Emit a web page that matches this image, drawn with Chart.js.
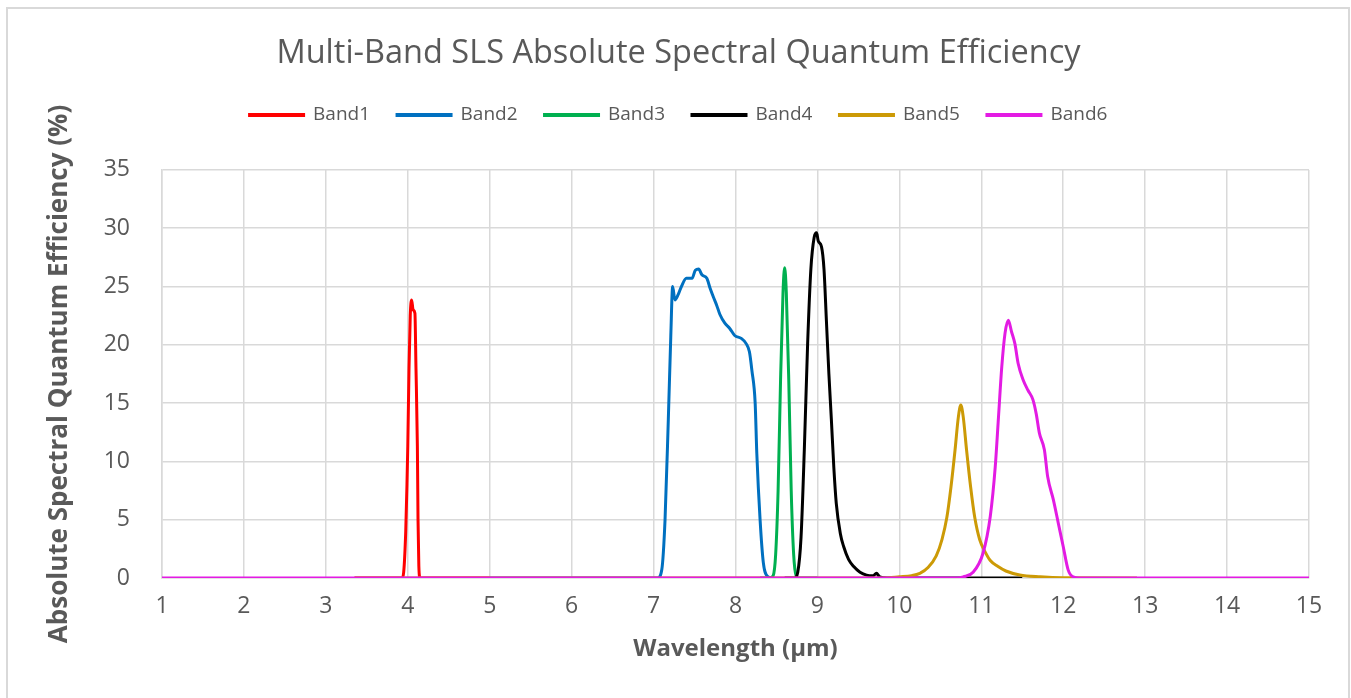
<!DOCTYPE html>
<html>
<head>
<meta charset="utf-8">
<title>Multi-Band SLS Absolute Spectral Quantum Efficiency</title>
<script src="https://cdn.jsdelivr.net/npm/chart.js@4.4.1/dist/chart.umd.min.js"></script>
<style>
  body { margin: 0; background: #fff; }
  #wrap { position: relative; width: 1351px; height: 698px; overflow: hidden; }
  #frame { position: absolute; left: 6px; top: 7px; width: 1344px; height: 720px;
           border: 2px solid #d9d9d9; box-sizing: border-box; pointer-events: none; }
</style>
</head>
<body>
<div id="wrap">
  <canvas id="qeChart" width="1351" height="698"></canvas>
  <div id="frame"></div>
</div>
<script>
// wavelength (um) and absolute QE (%), one pair of arrays per band
const bandNames = ['Band1', 'Band2', 'Band3', 'Band4', 'Band5', 'Band6'];
const bandColors = ['#ff0000', '#0070c0', '#00b050', '#000000', '#cc9a06', '#e31be3'];

const band1Wl = [3.35, 3.93, 3.95, 3.975, 3.99, 4.0, 4.015, 4.03, 4.047, 4.065, 4.087, 4.1, 4.117, 4.125, 4.135, 4.15, 5.0];
const band1Qe = [0, 0, 0.5, 4, 8, 11.3, 18, 22.5, 23.85, 23.0, 22.7, 18, 11.3, 5, 1, 0, 0];

const band2Wl = [5.0, 7.05, 7.1, 7.14, 7.18, 7.21, 7.233, 7.26, 7.30, 7.34, 7.40, 7.47, 7.51, 7.55, 7.59, 7.65, 7.69,
                 7.73, 7.77, 7.81, 7.87, 7.93, 7.99, 8.07, 8.13, 8.17, 8.2, 8.24, 8.26, 8.3, 8.34, 8.4, 8.45];
const band2Qe = [0, 0, 0.7, 5, 13.6, 20.7, 25.0, 23.85, 24.3, 25.0, 25.7, 25.7, 26.4, 26.5, 26.0, 25.7, 24.85,
                 24.1, 23.4, 22.6, 21.85, 21.4, 20.8, 20.55, 20.1, 19.4, 17.8, 15.0, 10.7, 5.0, 1.3, 0.1, 0];

const band3Wl = [8.3, 8.42, 8.46, 8.49, 8.52, 8.55, 8.58, 8.6, 8.62, 8.65, 8.68, 8.71, 8.74, 8.77, 9.0];
const band3Qe = [0, 0, 0.2, 2, 7.5, 17, 24.5, 26.6, 24.5, 17, 7.5, 2, 0.2, 0, 0];

const band4Wl = [8.6, 8.72, 8.76, 8.8, 8.84, 8.88, 8.92, 8.96, 8.99, 9.01, 9.05, 9.08, 9.11, 9.14, 9.17, 9.2, 9.23,
                 9.28, 9.32, 9.38, 9.44, 9.52, 9.6, 9.68, 9.72, 9.76, 9.85, 11.5];
const band4Qe = [0, 0, 0.5, 3.5, 11, 20, 26.5, 29.2, 29.6, 28.9, 28.4, 26.5, 22, 17.5, 13.6, 9.5, 6.4,
                 3.8, 2.7, 1.6, 1.0, 0.5, 0.25, 0.2, 0.4, 0.1, 0, 0];

const band5Wl = [3.35, 9.8, 10.0, 10.15, 10.25, 10.35, 10.45, 10.52, 10.58, 10.63, 10.68, 10.72, 10.75, 10.78, 10.82,
                 10.87, 10.92, 10.98, 11.05, 11.11, 11.2, 11.3, 11.47, 11.72, 12.0, 12.9];
const band5Qe = [0, 0, 0.1, 0.2, 0.4, 0.9, 1.9, 3.3, 5.2, 7.8, 11, 13.8, 14.84, 13.8, 11,
                 7.8, 5.2, 3.3, 2.2, 1.5, 1.0, 0.6, 0.26, 0.1, 0.02, 0];

const band6Wl = [1, 10.7, 10.78, 10.9, 11.02, 11.11, 11.17, 11.21, 11.25, 11.29, 11.33, 11.37, 11.41, 11.45, 11.51,
                 11.57, 11.63, 11.67, 11.71, 11.77, 11.81, 11.88, 11.94, 12.0, 12.06, 12.12, 12.2, 15];
const band6Qe = [0, 0, 0.1, 0.5, 2.1, 5.3, 9.5, 13.8, 18.1, 21.0, 22.1, 21.1, 20.1, 18.4, 17.0,
                 16.1, 15.3, 14.1, 12.4, 11.0, 8.7, 6.7, 4.7, 2.7, 0.7, 0.1, 0, 0];

const bandWl = [band1Wl, band2Wl, band3Wl, band4Wl, band5Wl, band6Wl];
const bandQe = [band1Qe, band2Qe, band3Qe, band4Qe, band5Qe, band6Qe];

const textGray = '#595959';
const gridGray = '#d9d9d9';

const datasets = bandNames.map((name, i) => ({
  label: name,
  data: bandWl[i].map((w, j) => ({ x: w, y: bandQe[i][j] })),
  borderColor: bandColors[i],
  backgroundColor: bandColors[i],
  borderWidth: 3,
  pointRadius: 0,
  showLine: true,
  cubicInterpolationMode: 'monotone',
  order: bandNames.length - i // later bands on top, like Excel
}));

new Chart(document.getElementById('qeChart'), {
  type: 'scatter',
  data: { datasets: datasets },
  options: {
    responsive: false,
    animation: false,
    layout: { padding: { left: 6, right: 0, top: 0, bottom: 0 } },
    plugins: {
      title: {
        display: true,
        text: 'Multi-Band SLS Absolute Spectral Quantum Efficiency',
        color: textGray,
        font: { family: 'Open Sans', size: 32.5, weight: 'normal' },
        padding: { top: 34, bottom: 5.5 }
      },
      legend: {
        position: 'top',
        labels: {
          color: textGray,
          font: { family: 'Open Sans', size: 19 },
          boxWidth: 54,
          boxHeight: 1,
          padding: 27,
          sort: (a, b) => a.datasetIndex - b.datasetIndex
        }
      },
      // empty subtitle used as a gap between the legend and the plot
      subtitle: {
        display: true,
        text: '',
        weight: 500,
        font: { size: 12 },
        padding: { top: 0, bottom: 21 }
      },
      tooltip: { enabled: false }
    },
    scales: {
      x: {
        type: 'linear',
        min: 1,
        max: 15,
        afterFit: (scale) => { scale.height = 120; },
        ticks: {
          stepSize: 1,
          color: textGray,
          padding: 15,
          font: { family: 'Open Sans', size: 23 }
        },
        grid: { color: gridGray, lineWidth: 1.5, drawTicks: false },
        border: { color: gridGray, width: 1.5 },
        title: {
          display: true,
          text: 'Wavelength (µm)',
          color: textGray,
          font: { family: 'Open Sans', size: 24, weight: 'bold' },
          padding: { top: 0, bottom: 34 }
        }
      },
      y: {
        min: 0,
        max: 35,
        afterFit: (scale) => { scale.width = 156; },
        ticks: {
          stepSize: 5,
          color: textGray,
          padding: 32,
          font: { family: 'Open Sans', size: 23 }
        },
        grid: { color: gridGray, lineWidth: 1.5, drawTicks: false },
        border: { color: gridGray, width: 1.5 },
        title: {
          display: true,
          text: 'Absolute Spectral Quantum Efficiency (%)',
          color: textGray,
          font: { family: 'Open Sans', size: 26, weight: 'bold' },
          padding: { top: 38, bottom: 0 }
        }
      },
      // blank right-hand strip so the plot ends where the reference's does
      yRight: {
        position: 'right',
        afterFit: (scale) => { scale.width = 42; },
        ticks: { display: false },
        grid: { display: false },
        border: { display: false }
      }
    }
  }
});
</script>
</body>
</html>
